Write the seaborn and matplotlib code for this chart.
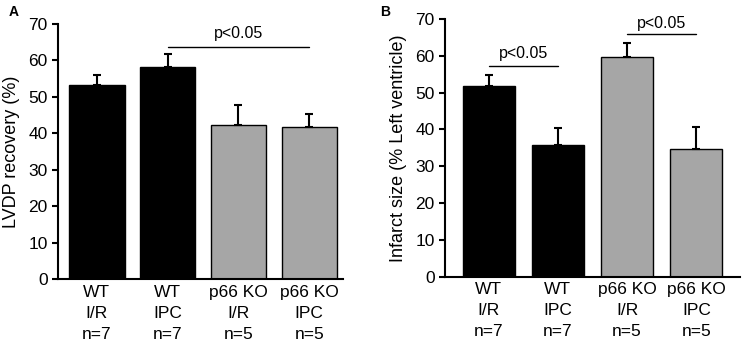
import numpy as np
import pandas as pd
import matplotlib
matplotlib.use('Agg')
import matplotlib.pyplot as plt
import seaborn as sns

groups = ["WT\nI/R\nn=7", "WT\nIPC\nn=7", "p66 KO\nI/R\nn=5", "p66 KO\nIPC\nn=5"]
colors = ["black", "black", "#a6a6a6", "#a6a6a6"]

lvdp_mean = [53.4, 58.3, 42.2, 41.8]
lvdp_err = [2.6, 3.5, 5.5, 3.6]

infarct_mean = [51.9, 35.8, 59.7, 34.7]
infarct_err = [2.8, 4.5, 3.9, 5.9]

sns.set_style("ticks")
plt.rcParams['font.family'] = ['Liberation Sans', 'DejaVu Sans']
plt.rcParams.update({'text.color': 'black', 'axes.labelcolor': 'black',
                     'xtick.color': 'black', 'ytick.color': 'black',
                     'axes.edgecolor': 'black'})

fig = plt.figure(figsize=(7.43, 3.44), dpi=100)
axA = fig.add_axes([0.078, 0.189, 0.384, 0.741])
axB = fig.add_axes([0.599, 0.195, 0.397, 0.750])


def draw_panel(ax, means, errs, ylabel, width, xlim):
    df = pd.DataFrame({"group": groups, "value": means})
    sns.barplot(data=df, x="group", y="value", hue="group", palette=colors,
                width=width, edgecolor="black", linewidth=1, legend=False, ax=ax)
    x = np.arange(len(groups))
    ax.errorbar(x, means, yerr=[np.zeros(len(errs)), errs], fmt="none",
                ecolor="black", elinewidth=1.5, capsize=3, capthick=1.5)
    ax.set_ylim(0, 70)
    ax.set_xlim(*xlim)
    ax.set_yticks(range(0, 71, 10))
    ax.set_xlabel("")
    ax.set_ylabel(ylabel, fontsize=13, labelpad=6)
    ax.tick_params(axis="y", labelsize=12.5, width=1.5, length=4)
    ax.tick_params(axis="x", labelsize=12.5, length=0, pad=4)
    for lab in ax.get_xticklabels():
        lab.set_linespacing(1.5)
    for s in ["left", "bottom"]:
        ax.spines[s].set_linewidth(1.5)
    sns.despine(ax=ax)


def sig_line(ax, x0, x1, y, ty):
    ax.plot([x0, x1], [y, y], color="black", lw=1)
    ax.text((x0 + x1) / 2, ty, "p<0.05", ha="center", va="center", fontsize=11.5)


draw_panel(axA, lvdp_mean, lvdp_err, "LVDP recovery (%)", 0.78, (-0.55, 3.48))
sig_line(axA, 1, 3, 63.8, 67.5)

draw_panel(axB, infarct_mean, infarct_err, "Infarct size (% Left ventricle)", 0.75, (-0.63, 3.63))
sig_line(axB, 0, 1, 57.3, 60.7)
sig_line(axB, 2, 3, 66.0, 68.8)

fig.text(0.012, 0.965, "A", fontsize=10, fontweight="bold", va="center")
fig.text(0.511, 0.965, "B", fontsize=10, fontweight="bold", va="center")

plt.savefig("out.png", dpi=100)
plt.close()
